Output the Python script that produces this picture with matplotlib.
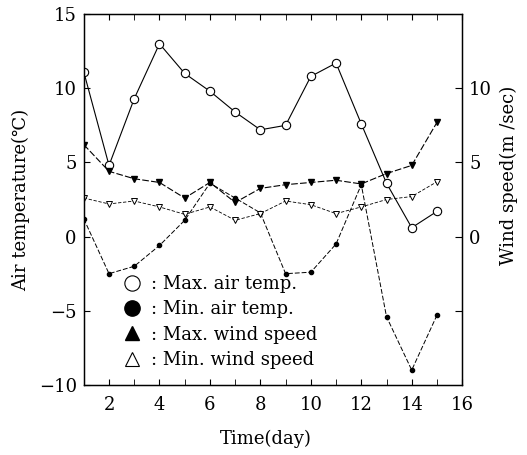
import numpy as np
import matplotlib.pyplot as plt
from matplotlib.lines import Line2D

plt.rcParams['font.family'] = ['DejaVu Serif', 'Liberation Serif']

days = np.arange(1, 16)
max_air_temp = [11.1, 4.8, 9.3, 13.0, 11.0, 9.8, 8.4, 7.2, 7.5, 10.8, 11.7, 7.6, 3.6, 0.6, 1.7]
min_air_temp = [1.2, -2.5, -2.0, -0.6, 1.1, 3.6, 2.6, 1.6, -2.5, -2.4, -0.5, 3.5, -5.4, -9.0, -5.3]
max_wind = [6.2, 4.4, 3.9, 3.65, 2.6, 3.65, 2.3, 3.25, 3.5, 3.65, 3.8, 3.55, 4.25, 4.8, 7.7]
min_wind = [2.6, 2.2, 2.4, 2.0, 1.5, 2.0, 1.1, 1.55, 2.4, 2.15, 1.55, 2.0, 2.5, 2.7, 3.7]

temp_ticks = [-10, -5, 0, 5, 10, 15]
wind_ticks = [-5, 0, 5, 10]
wind_labels = ['', '0', '5', '10']
x_ticks = [2, 4, 6, 8, 10, 12, 14, 16]

fig = plt.figure(figsize=(5.27, 4.55), dpi=100)
ax = fig.add_axes([0.159, 0.154, 0.718, 0.815])

ax.plot(days, max_air_temp, '-', color='black', lw=0.8,
        marker='o', ms=6, mfc='white', mec='black', mew=0.8)
ax.plot(days, min_air_temp, '--', dashes=(5, 2), color='black', lw=0.7,
        marker='o', ms=3, mfc='black', mec='black')
ax.plot(days, max_wind, '--', dashes=(6, 2), color='black', lw=0.8,
        marker='v', ms=4, mfc='black', mec='black')
ax.plot(days, min_wind, '--', dashes=(4, 2), color='black', lw=0.6,
        marker='v', ms=5, mfc='white', mec='black', mew=0.7)

ax.set_xlim(1, 16)
ax.set_ylim(-10, 15)
ax.set_xticks(x_ticks)
ax.set_xticks(np.arange(1, 17), minor=True)
ax.set_yticks(temp_ticks)
ax.tick_params(axis='both', which='both', direction='in', labelsize=13)
ax.tick_params(axis='x', which='both', top=True, length=4, pad=8)
ax.tick_params(axis='y', length=4, pad=5)
for s in ax.spines.values():
    s.set_linewidth(1.0)

ax2 = ax.twinx()
ax2.set_ylim(-10, 15)
ax2.set_yticks(wind_ticks)
ax2.set_yticklabels(wind_labels)
ax2.tick_params(axis='y', direction='in', length=5, labelsize=13, pad=5)

ax.set_xlabel('Time(day)', fontsize=13)
ax.xaxis.set_label_coords(0.48, -0.12)
ax.set_ylabel('Air temperature(℃)', fontsize=13)
ax.yaxis.set_label_coords(-0.143, 0.5)
ax2.set_ylabel('Wind speed(m /sec)', fontsize=13, rotation=90)
ax2.yaxis.set_label_coords(1.1, 0.565)

handles = [
    Line2D([], [], ls='none', marker='o', ms=11, mfc='white', mec='black', mew=0.8),
    Line2D([], [], ls='none', marker='o', ms=11, mfc='black', mec='black'),
    Line2D([], [], ls='none', marker='^', ms=10, mfc='black', mec='black'),
    Line2D([], [], ls='none', marker='^', ms=10, mfc='white', mec='black', mew=0.8),
]
labels = [': Max. air temp.', ': Min. air temp.', ': Max. wind speed', ': Min. wind speed']
ax.legend(handles, labels, loc='upper left', bbox_to_anchor=(0.07, 0.33),
          frameon=False, fontsize=13, handlelength=1.0, handletextpad=0.55,
          labelspacing=0.4, borderpad=0.2)

fig.savefig('out.png', dpi=100)
